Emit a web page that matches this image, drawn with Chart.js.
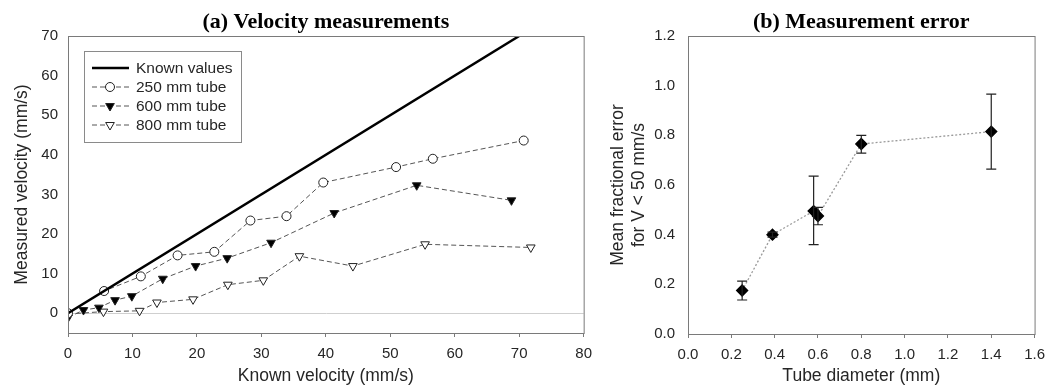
<!DOCTYPE html>
<html>
<head>
<meta charset="utf-8">
<script src="https://cdn.jsdelivr.net/npm/chart.js@4/dist/chart.umd.min.js"></script>
<style>
  body { margin: 0; background: #fff; }
  canvas { position: absolute; top: 0; }
  #velChart { left: 0; }
  #errChart { left: 600px; }
</style>
</head>
<body>
<canvas id="velChart" width="600" height="387"></canvas>
<canvas id="errChart" width="453" height="387"></canvas>
<script>
// (a) velocity data
const knownX = [0, 70];
const knownY = [0, 70];
const tube250X = [0, 5.6, 11.3, 17.0, 22.7, 28.3, 33.9, 39.6, 50.9, 56.6, 70.7];
const tube250Y = [0, 5.6, 9.3, 14.6, 15.5, 23.4, 24.5, 33.0, 36.9, 39.0, 43.6];
const tube600X = [0, 2.4, 4.8, 7.3, 9.9, 14.7, 19.8, 24.7, 31.5, 41.3, 54.1, 68.8];
const tube600Y = [-1.1, 0.8, 1.4, 3.3, 4.3, 8.7, 11.9, 13.9, 17.8, 25.3, 32.3, 28.5];
const tube800X = [0, 5.5, 11.1, 13.8, 19.4, 24.8, 30.3, 35.9, 44.2, 55.4, 71.8];
const tube800Y = [-0.2, 0.4, 0.6, 2.7, 3.5, 7.2, 8.3, 14.4, 11.9, 17.4, 16.6];
const seriesLabels = ['Known values', '250 mm tube', '600 mm tube', '800 mm tube'];

// (b) measurement error data
const tubeDiam = [0.25, 0.39, 0.58, 0.60, 0.80, 1.40];
const meanErr = [0.175, 0.40, 0.495, 0.475, 0.765, 0.815];
const errLow = [0.137, 0.39, 0.36, 0.44, 0.728, 0.664];
const errHigh = [0.213, 0.41, 0.636, 0.51, 0.80, 0.966];

const sans = 'Liberation Sans, Arial, sans-serif';
const serif = 'Liberation Serif, Times New Roman, serif';
const axisGrey = '#7a7a7a';
const textCol = '#262626';

const pts = (xs, ys) => xs.map((x, i) => ({ x: x, y: ys[i] }));

// box around the plot area
const frame = {
  id: 'frame',
  afterDraw(chart) {
    const a = chart.chartArea, c = chart.ctx;
    c.save();
    c.strokeStyle = axisGrey;
    c.lineWidth = 1;
    c.strokeRect(a.left + 0.5, a.top + 0.5, a.right - a.left, a.bottom - a.top);
    c.restore();
  }
};

// legend box in the upper left of plot (a)
const boxLegend = {
  id: 'boxLegend',
  afterDraw(chart) {
    const c = chart.ctx;
    const x0 = 84, y0 = 51, w = 157, h = 91;
    c.save();
    c.fillStyle = '#fff';
    c.fillRect(x0, y0, w, h);
    c.strokeStyle = '#8a8a8a';
    c.lineWidth = 1;
    c.strokeRect(x0 + 0.5, y0 + 0.5, w, h);
    chart.data.datasets.forEach((ds, i) => {
      const y = 68 + i * 19;
      c.beginPath();
      c.strokeStyle = ds.borderColor;
      c.lineWidth = ds.borderWidth;
      c.setLineDash(ds.borderDash || []);
      c.moveTo(92, y);
      c.lineTo(129, y);
      c.stroke();
      c.setLineDash([]);
      if (ds.pointRadius > 0) {
        c.fillStyle = ds.pointBackgroundColor;
        c.strokeStyle = ds.pointBorderColor;
        c.lineWidth = 1;
        Chart.helpers.drawPoint(c, {
          pointStyle: ds.pointStyle, rotation: ds.pointRotation || 0,
          radius: ds.pointRadius, borderWidth: 1
        }, 110, y);
      }
      c.fillStyle = textCol;
      c.font = '15.5px ' + sans;
      c.textBaseline = 'middle';
      c.fillText(ds.label, 136, y + 1);
    });
    c.restore();
  }
};

// vertical error bars with caps for plot (b)
const errorBars = {
  id: 'errorBars',
  afterDatasetsDraw(chart) {
    const xs = chart.scales.x, ys = chart.scales.y, c = chart.ctx;
    c.save();
    c.strokeStyle = '#222';
    c.lineWidth = 1.2;
    tubeDiam.forEach((d, i) => {
      const px = xs.getPixelForValue(d);
      const lo = ys.getPixelForValue(errLow[i]);
      const hi = ys.getPixelForValue(errHigh[i]);
      c.beginPath();
      c.moveTo(px, lo); c.lineTo(px, hi);
      c.moveTo(px - 5, lo); c.lineTo(px + 5, lo);
      c.moveTo(px - 5, hi); c.lineTo(px + 5, hi);
      c.stroke();
    });
    c.restore();
  }
};

const dashed = { borderColor: '#555', borderWidth: 1, borderDash: [5, 3], showLine: true, pointBorderColor: '#222', pointBorderWidth: 1 };
const tickFont = { family: sans, size: 15 };
const axisFont = { family: sans, size: 17.5 };
const titleFont = { family: serif, size: 22, weight: 'bold' };

new Chart(document.getElementById('velChart'), {
  type: 'scatter',
  data: {
    datasets: [
      { label: seriesLabels[0], data: pts(knownX, knownY), showLine: true, borderColor: '#000', borderWidth: 2.5, pointRadius: 0 },
      Object.assign({ label: seriesLabels[1], data: pts(tube250X, tube250Y), pointStyle: 'circle', pointRadius: 4.5, pointBackgroundColor: '#fff' }, dashed),
      Object.assign({ label: seriesLabels[2], data: pts(tube600X, tube600Y), pointStyle: 'triangle', pointRotation: 180, pointRadius: 5, pointBackgroundColor: '#000' }, dashed),
      Object.assign({ label: seriesLabels[3], data: pts(tube800X, tube800Y), pointStyle: 'triangle', pointRotation: 180, pointRadius: 5, pointBackgroundColor: '#fff' }, dashed)
    ]
  },
  options: {
    responsive: false,
    animation: false,
    layout: { padding: { left: 0, right: 11, top: 0, bottom: 0 } },
    plugins: {
      legend: { display: false },
      tooltip: { enabled: false },
      title: {
        display: true, text: '(a) Velocity measurements', color: '#000',
        fullSize: false, font: titleFont, padding: { top: 8.8, bottom: 0.8 }
      }
    },
    scales: {
      x: {
        type: 'linear', min: 0, max: 80,
        afterFit: s => { s.height = 54; },
        ticks: { stepSize: 10, color: textCol, font: tickFont, padding: 8 },
        grid: { drawOnChartArea: false, drawTicks: true, tickLength: 4, color: axisGrey },
        border: { color: axisGrey },
        title: { display: true, text: 'Known velocity (mm/s)', color: textCol, font: axisFont, padding: 0 }
      },
      y: {
        min: -5, max: 70,
        afterFit: s => { s.width = 68; },
        afterBuildTicks: s => { s.ticks = s.ticks.filter(t => t.value >= 0); },
        ticks: { stepSize: 10, color: textCol, font: tickFont, padding: 10 },
        grid: { drawTicks: false, color: c => (c.tick && c.tick.value === 0 ? '#cfcfcf' : 'rgba(0,0,0,0)') },
        border: { color: axisGrey },
        title: { display: true, text: 'Measured velocity (mm/s)', color: textCol, font: axisFont, padding: { top: 12, bottom: 0 } }
      }
    }
  },
  plugins: [frame, boxLegend]
});

new Chart(document.getElementById('errChart'), {
  type: 'scatter',
  data: {
    datasets: [{
      label: 'Mean fractional error',
      data: pts(tubeDiam, meanErr),
      showLine: true,
      borderColor: '#9a9a9a', borderWidth: 1.3, borderDash: [2, 2],
      pointStyle: 'rectRot', pointRadius: 5.5,
      pointBackgroundColor: '#000', pointBorderColor: '#000'
    }]
  },
  options: {
    responsive: false,
    animation: false,
    layout: { padding: { left: 0, right: 10, top: 0, bottom: 0 } },
    plugins: {
      legend: { display: false },
      tooltip: { enabled: false },
      title: {
        display: true, text: '(b) Measurement error', color: '#000',
        fullSize: false, font: titleFont, padding: { top: 8.8, bottom: 0.8 }
      }
    },
    scales: {
      x: {
        type: 'linear', min: 0, max: 1.6,
        afterFit: s => { s.height = 53; },
        ticks: { stepSize: 0.2, color: textCol, font: tickFont, padding: 8, callback: v => v.toFixed(1) },
        grid: { drawOnChartArea: false, drawTicks: true, tickLength: 4, color: axisGrey },
        border: { color: axisGrey },
        title: { display: true, text: 'Tube diameter (mm)', color: textCol, font: axisFont, padding: 0 }
      },
      y: {
        min: 0, max: 1.2,
        afterFit: s => { s.width = 88; },
        ticks: { stepSize: 0.2, color: textCol, font: tickFont, padding: 5, callback: v => v.toFixed(1) },
        grid: { display: false },
        border: { color: axisGrey },
        title: { display: true, text: ['Mean fractional error', 'for V < 50 mm/s'], color: textCol, font: axisFont, padding: { top: 8, bottom: 0 } }
      }
    }
  },
  plugins: [frame, errorBars]
});
</script>
</body>
</html>
